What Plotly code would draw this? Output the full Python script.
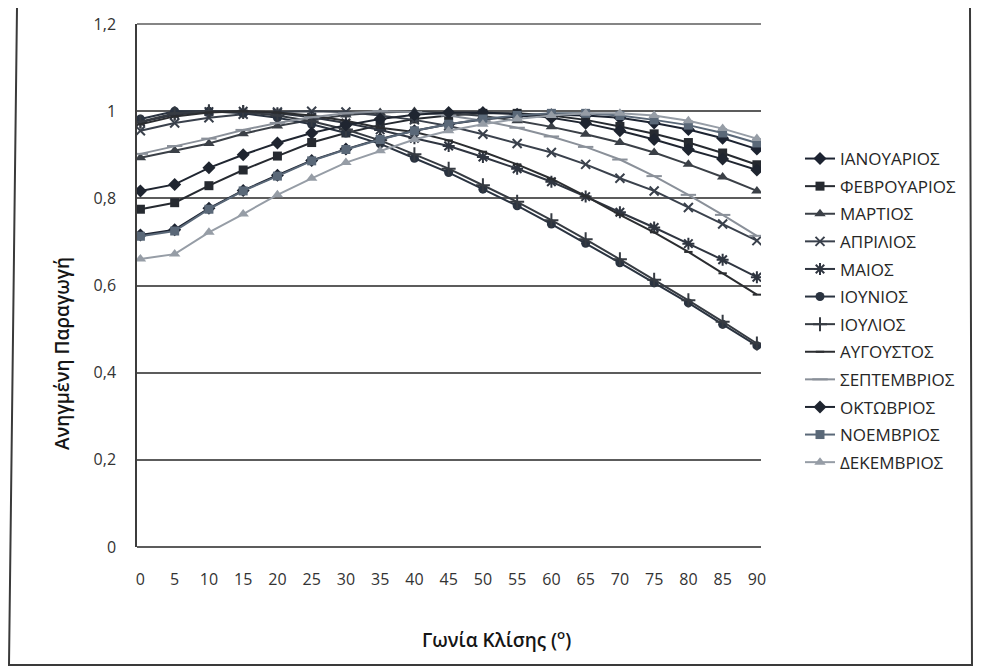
import plotly.graph_objects as go

# ---------------- data ----------------
angles = [0, 5, 10, 15, 20, 25, 30, 35, 40, 45, 50, 55, 60, 65, 70, 75, 80, 85, 90]
months = ["ΙΑΝΟΥΑΡΙΟΣ", "ΦΕΒΡΟΥΑΡΙΟΣ", "ΜΑΡΤΙΟΣ", "ΑΠΡΙΛΙΟΣ", "ΜΑΙΟΣ", "ΙΟΥΝΙΟΣ",
          "ΙΟΥΛΙΟΣ", "ΑΥΓΟΥΣΤΟΣ", "ΣΕΠΤΕΜΒΡΙΟΣ", "ΟΚΤΩΒΡΙΟΣ", "ΝΟΕΜΒΡΙΟΣ", "ΔΕΚΕΜΒΡΙΟΣ"]

jan = [0.716, 0.728, 0.777, 0.818, 0.853, 0.887, 0.913, 0.936, 0.955, 0.970, 0.981, 0.988, 0.992, 0.990, 0.985, 0.973, 0.958, 0.938, 0.913]
feb = [0.775, 0.790, 0.829, 0.865, 0.897, 0.928, 0.950, 0.968, 0.982, 0.990, 0.995, 0.995, 0.990, 0.980, 0.965, 0.948, 0.928, 0.904, 0.877]
mar = [0.893, 0.910, 0.926, 0.948, 0.966, 0.980, 0.991, 0.997, 0.999, 0.996, 0.989, 0.978, 0.964, 0.947, 0.928, 0.905, 0.878, 0.849, 0.817]
apr = [0.955, 0.973, 0.985, 0.993, 0.998, 1.000, 0.998, 0.990, 0.980, 0.966, 0.947, 0.926, 0.905, 0.878, 0.846, 0.817, 0.779, 0.741, 0.703]
may = [0.975, 0.992, 0.999, 1.000, 0.995, 0.986, 0.973, 0.957, 0.938, 0.920, 0.895, 0.868, 0.838, 0.804, 0.768, 0.733, 0.696, 0.659, 0.619]
jun = [0.982, 1.000, 1.000, 0.995, 0.985, 0.970, 0.950, 0.925, 0.892, 0.859, 0.821, 0.783, 0.741, 0.697, 0.652, 0.606, 0.560, 0.511, 0.462]
jul = [0.976, 0.995, 1.000, 0.998, 0.990, 0.977, 0.958, 0.933, 0.901, 0.868, 0.830, 0.792, 0.750, 0.706, 0.660, 0.613, 0.566, 0.517, 0.467]
aug = [0.970, 0.988, 0.997, 1.000, 0.997, 0.990, 0.978, 0.962, 0.952, 0.933, 0.907, 0.878, 0.845, 0.805, 0.762, 0.722, 0.677, 0.628, 0.579]
sep = [0.902, 0.920, 0.937, 0.957, 0.973, 0.986, 0.995, 1.000, 0.998, 0.990, 0.978, 0.962, 0.942, 0.918, 0.889, 0.851, 0.808, 0.762, 0.714]
oct_ = [0.817, 0.832, 0.870, 0.900, 0.927, 0.950, 0.968, 0.982, 0.992, 0.997, 0.997, 0.993, 0.985, 0.972, 0.955, 0.935, 0.912, 0.890, 0.865]
nov = [0.713, 0.725, 0.775, 0.817, 0.851, 0.886, 0.912, 0.935, 0.955, 0.970, 0.982, 0.990, 0.995, 0.995, 0.990, 0.980, 0.968, 0.950, 0.927]
dec = [0.661, 0.672, 0.722, 0.764, 0.808, 0.846, 0.882, 0.909, 0.935, 0.955, 0.970, 0.982, 0.990, 0.995, 0.995, 0.990, 0.978, 0.960, 0.937]

y_ticks = [0, 0.2, 0.4, 0.6, 0.8, 1.0, 1.2]

series = [jan, feb, mar, apr, may, jun, jul, aug, sep, oct_, nov, dec]

# ---------------- styles ----------------
colors = ["#1c2331", "#262a30", "#3b4047", "#3a414c", "#2f3540", "#2a3340",
          "#363b42", "#2b2d30", "#8a9099", "#1f2530", "#5a6878", "#969da6"]
symbols = ["diamond", "square", "triangle-up", "x-thin-open", "asterisk-open", "circle",
           "cross-thin-open", "line-ew-open", "line-ew-open", "diamond", "square", "triangle-up"]
sizes = [10, 9, 10, 9, 10, 9, 10, 6, 11, 10, 9, 10]

# page body has an 8px margin, so figure pixel = screen pixel - 8
OFF = 8
W, H = 986 - OFF, 672 - OFF
L, R, T, B = 137 - OFF, 761 - OFF, 24 - OFF, 547 - OFF  # plot area in figure pixels

fig = go.Figure()
for name, ys, c, s, sz in zip(months, series, colors, symbols, sizes):
    open_sym = s.endswith("-open")
    fig.add_trace(go.Scatter(
        x=angles, y=ys, name=name, mode="lines+markers",
        legendgroup=name,
        line=dict(color=c, width=2),
        marker=dict(symbol=s, size=sz, color=c,
                    line=dict(color=c, width=2 if open_sym else 0)),
    ))

def px2paper_x(px):  # px in screen coordinates
    return (px - OFF - L) / (R - L)

def px2paper_y(py):
    return (B - (py - OFF)) / (B - T)

font_family = "Open Sans, Noto Sans, DejaVu Sans, sans-serif"

fig.update_layout(
    width=W, height=H,
    margin=dict(l=L, r=W - R, t=T, b=H - B, pad=0, autoexpand=False),
    paper_bgcolor="white", plot_bgcolor="white",
    separators=",.",
    font=dict(family=font_family, color="#333333"),
    showlegend=True,
    legend=dict(
        x=px2paper_x(800), y=px2paper_y(141), xanchor="left", yanchor="top",
        font=dict(size=17, color="#262626"),
        tracegroupgap=2.5, bgcolor="rgba(0,0,0,0)",
    ),
    xaxis=dict(
        range=[-0.5, 90.6], tickmode="array", tickvals=angles,
        ticktext=[str(a) for a in angles], automargin=False,
        showgrid=False, zeroline=False, showline=False,
        ticks="outside", ticklen=18, tickcolor="rgba(0,0,0,0)",
        tickfont=dict(size=16, color="#333333"),
    ),
    yaxis=dict(
        range=[0, 1.2], tickmode="array", tickvals=y_ticks, automargin=False,
        ticklabeloverflow="allow",
        showgrid=True, gridcolor="#5c5c5c", gridwidth=1.5,
        zeroline=True, zerolinecolor="#5c5c5c", zerolinewidth=1.5,
        showline=True, linecolor="#3c3c3c", linewidth=1.5,
        ticks="outside", ticklen=16, tickcolor="rgba(0,0,0,0)",
        tickfont=dict(size=16, color="#333333"),
    ),
)

# top gridline at 1.2 (top edge of plot area)
fig.add_shape(type="line", xref="paper", yref="paper", x0=0, x1=1, y0=1, y1=1,
              line=dict(color="#5c5c5c", width=1.5))

# axis titles
fig.add_annotation(text="Ανηγμένη Παραγωγή", xref="paper", yref="paper",
                   x=px2paper_x(62), y=px2paper_y(354), textangle=-90,
                   showarrow=False, xanchor="center", yanchor="middle",
                   font=dict(size=19, color="#151515", family=font_family, weight=600))
fig.add_annotation(text="Γωνία Κλίσης (<sup>o</sup>)", xref="paper", yref="paper",
                   x=px2paper_x(497), y=px2paper_y(639),
                   showarrow=False, xanchor="center", yanchor="middle",
                   font=dict(size=19, color="#151515", family=font_family, weight=600))

# scanned chart frame (left, bottom, right edges)
fig.add_shape(type="path", xref="paper", yref="paper",
              path="M {} {} L {} {} L {} {} L {} {}".format(
                  px2paper_x(17), px2paper_y(8), px2paper_x(9), px2paper_y(665),
                  px2paper_x(972), px2paper_y(665), px2paper_x(970), px2paper_y(8)),
              line=dict(color="#3a3a3a", width=2), fillcolor="rgba(0,0,0,0)")

fig.write_html("out.html")
